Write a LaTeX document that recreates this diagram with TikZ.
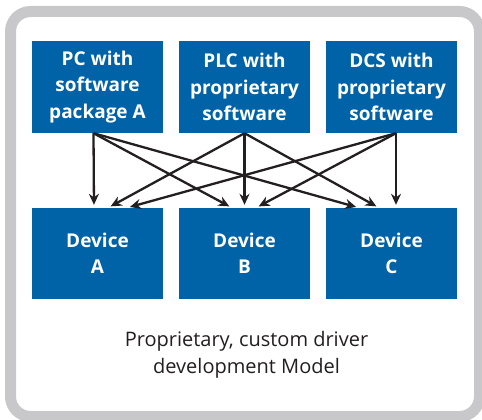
\documentclass[tikz,border=0pt]{standalone}
\usepackage{fontspec}
\setmainfont{Open Sans}
\usetikzlibrary{arrows.meta}
\definecolor{boxblue}{RGB}{0,99,167}
\definecolor{framegray}{RGB}{200,200,202}
\definecolor{inkdark}{RGB}{35,31,32}
\begin{document}
\begin{tikzpicture}[x=1pt,y=-1pt,
  bluebox/.style={fill=boxblue, draw=none, text=white, font=\bfseries\fontsize{19}{26.5}\selectfont,
    align=center, minimum width=131pt, inner sep=0pt},
  topbox/.style={bluebox, minimum height=92pt},
  devbox/.style={bluebox, minimum height=91pt},
  conn/.style={draw=inkdark, line width=2.3pt, -{Stealth[length=11pt,width=10pt]}, shorten >=3pt}
]
\useasboundingbox (0,0) rectangle (482,420);
\draw[framegray, line width=11pt, fill=white, rounded corners=20pt] (10.5,11.5) rectangle (479.5,416.5);

\node[topbox] (pc)  at (97.5,87) {PC with\\software\\package A};
\node[topbox] (plc) at (244.5,87) {PLC with\\proprietary\\software};
\node[topbox] (dcs) at (391.5,87) {DCS with\\proprietary\\software};

\node[devbox] (da) at (97.5,253.5) {Device\\A};
\node[devbox] (db) at (244.5,253.5) {Device\\B};
\node[devbox] (dc) at (391.5,253.5) {Device\\C};

\node[text=inkdark, font=\fontsize{20}{27}\selectfont, align=center] (cap) at (246.5,355)
  {Proprietary, custom driver\\development Model};

% from PC
\draw[conn] ([xshift=-4pt]pc.south) -- ([xshift=-3.5pt]da.north);
\draw[conn] ([xshift=-4pt]pc.south) -- ([xshift=-12.5pt]db.north);
\draw[conn] ([xshift=-4pt]pc.south) -- ([xshift=-32.5pt]dc.north);
% from PLC
\draw[conn] (plc.south) -- ([xshift=10.5pt]da.north);
\draw[conn] (plc.south) -- (db.north);
\draw[conn] (plc.south) -- ([xshift=-12.5pt]dc.north);
% from DCS
\draw[conn] ([xshift=4.5pt]dcs.south) -- ([xshift=29.5pt]da.north);
\draw[conn] ([xshift=4.5pt]dcs.south) -- ([xshift=11.5pt]db.north);
\draw[conn] ([xshift=4.5pt]dcs.south) -- ([xshift=4.5pt]dc.north);
\end{tikzpicture}
\end{document}
